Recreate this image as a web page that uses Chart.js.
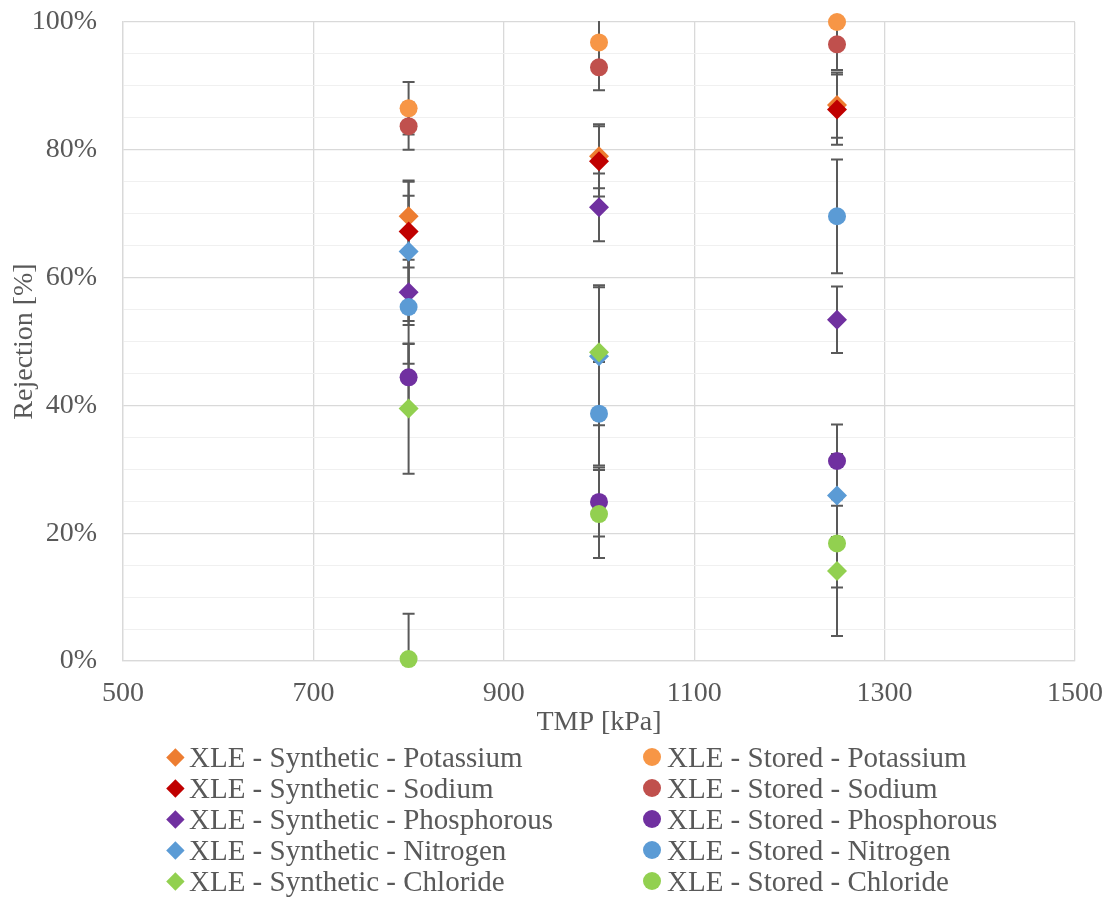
<!DOCTYPE html>
<html>
<head>
<meta charset="utf-8">
<script src="https://cdn.jsdelivr.net/npm/chart.js@4.4.1/dist/chart.umd.min.js"></script>
<style>
  body { margin: 0; background: #fff; }
  #wrap { position: relative; width: 1114px; height: 898px; }
  #legend { position: absolute; left: 0; top: 0; width: 1114px; height: 898px; pointer-events: none;
            font-family: "Liberation Serif", "Times New Roman", serif; font-size: 29px; color: #595959; }
  .lbl { position: absolute; white-space: nowrap; line-height: 32px; height: 32px; }
  .mk { position: absolute; }
</style>
</head>
<body>
<div id="wrap">
  <canvas id="myChart" width="1114" height="898"></canvas>
  <div id="legend"></div>
</div>
<script>
// TMP values (kPa)
const tmp = [800, 1000, 1250];

// rejection [%] and error (+/-)
const synPotassium = [69.6, 79.0, 87.0];
const synPotassiumErr = [5.6, 5.0, 5.1];
const synSodium = [67.2, 78.2, 86.3];
const synSodiumErr = [5.6, 5.5, 5.5];
const synPhosphorous = [57.7, 71.0, 53.4];
const synPhosphorousErr = [5.1, 5.3, 5.2];
const synNitrogen = [64.1, 47.7, 25.9];
const synNitrogenErr = [10.9, 10.8, 6.5];
const synChloride = [39.5, 48.3, 14.1];
const synChlorideErr = [10.2, 10.5, 10.2];

const stoPotassium = [86.5, 96.8, 100.0];
const stoPotassiumErr = [4.1, 4.0, 4.0];
const stoSodium = [83.7, 92.9, 96.5];
const stoSodiumErr = [3.7, 3.6, 4.0];
const stoPhosphorous = [44.4, 24.9, 31.3];
const stoPhosphorousErr = [5.2, 5.4, 5.7];
const stoNitrogen = [55.4, 38.7, 69.6];
const stoNitrogenErr = [8.9, 8.1, 8.9];
const stoChloride = [0.3, 23.0, 18.4];
const stoChlorideErr = [7.1, 6.9, 6.9];

const xTicks = [500, 700, 900, 1100, 1300, 1500];
const yTicks = [0, 20, 40, 60, 80, 100];

const textColor = '#595959';
const fontFam = '"Liberation Serif", "Times New Roman", serif';

// legend order (excel: row by row)
const series = [
    { label: 'XLE - Synthetic - Potassium', data: synPotassium, err: synPotassiumErr, color: '#ED7D31', style: 'rectRot' },
    { label: 'XLE - Stored - Potassium', data: stoPotassium, err: stoPotassiumErr, color: '#F79646', style: 'circle' },
    { label: 'XLE - Synthetic - Sodium', data: synSodium, err: synSodiumErr, color: '#C00000', style: 'rectRot' },
    { label: 'XLE - Stored - Sodium', data: stoSodium, err: stoSodiumErr, color: '#C0504D', style: 'circle' },
    { label: 'XLE - Synthetic - Phosphorous', data: synPhosphorous, err: synPhosphorousErr, color: '#7030A0', style: 'rectRot' },
    { label: 'XLE - Stored - Phosphorous', data: stoPhosphorous, err: stoPhosphorousErr, color: '#7030A0', style: 'circle' },
    { label: 'XLE - Synthetic - Nitrogen', data: synNitrogen, err: synNitrogenErr, color: '#5B9BD5', style: 'rectRot' },
    { label: 'XLE - Stored - Nitrogen', data: stoNitrogen, err: stoNitrogenErr, color: '#5B9BD5', style: 'circle' },
    { label: 'XLE - Synthetic - Chloride', data: synChloride, err: synChlorideErr, color: '#92D050', style: 'rectRot' },
    { label: 'XLE - Stored - Chloride', data: stoChloride, err: stoChlorideErr, color: '#92D050', style: 'circle' }
];

// error bars, drawn under the markers
const errorBars = {
    id: 'errorBars',
    beforeDatasetsDraw(chart) {
        const { ctx, chartArea } = chart;
        const xs = chart.scales.x, ys = chart.scales.y;
        ctx.save();
        ctx.beginPath();
        ctx.rect(chartArea.left, chartArea.top - 1, chartArea.right - chartArea.left, chartArea.bottom - chartArea.top + 2);
        ctx.clip();
        ctx.strokeStyle = '#595959';
        ctx.lineWidth = 2;
        chart.data.datasets.forEach(ds => {
            ds.data.forEach((p, i) => {
                const px = xs.getPixelForValue(p.x);
                const top = ys.getPixelForValue(p.y + ds.err[i]);
                const bot = ys.getPixelForValue(p.y - ds.err[i]);
                ctx.beginPath();
                ctx.moveTo(px, top); ctx.lineTo(px, bot);
                ctx.moveTo(px - 6, top); ctx.lineTo(px + 6, top);
                ctx.moveTo(px - 6, bot); ctx.lineTo(px + 6, bot);
                ctx.stroke();
            });
        });
        ctx.restore();
    }
};

const ctx = document.getElementById('myChart').getContext('2d');
const myChart = new Chart(ctx, {
    type: 'scatter',
    data: {
        datasets: series.map((s, i) => ({
            label: s.label,
            data: s.data.map((v, j) => ({ x: tmp[j], y: v })),
            err: s.err,
            backgroundColor: s.color,
            borderWidth: 0,
            pointStyle: s.style,
            pointRadius: s.style === 'circle' ? 9 : 10,
            order: series.length - i,
            clip: false
        }))
    },
    options: {
        responsive: false,
        animation: false,
        layout: { padding: { top: 22, right: 39, bottom: 159, left: 0 } },
        plugins: {
            legend: { display: false },
            tooltip: { enabled: false }
        },
        scales: {
            x: {
                type: 'linear',
                min: 500,
                max: 1500,
                afterBuildTicks: (s) => { s.ticks = xTicks.map(v => ({ value: v })); },
                afterFit: (s) => { s.height = 78; s.paddingLeft = 0; s.paddingRight = 0; },
                ticks: { color: textColor, font: { family: fontFam, size: 28 }, padding: 16, maxRotation: 0, callback: (v) => String(v) },
                grid: { color: '#d9d9d9', lineWidth: 1.3, drawTicks: false },
                border: { color: '#d9d9d9', width: 1.3 },
                title: { display: true, text: 'TMP [kPa]', color: textColor, font: { family: fontFam, size: 28 }, padding: 0 }
            },
            y: {
                min: 0,
                max: 100,
                ticks: {
                    stepSize: 5,
                    autoSkip: false,
                    color: textColor,
                    font: { family: fontFam, size: 28 },
                    padding: 26,
                    callback: (v) => yTicks.includes(v) ? v + '%' : ''
                },
                afterFit: (s) => { s.width = 123; s.paddingTop = 0; s.paddingBottom = 0; },
                grid: {
                    color: (c) => yTicks.includes(c.tick.value) ? '#d9d9d9' : '#f0f0f0',
                    lineWidth: (c) => yTicks.includes(c.tick.value) ? 1.3 : 1,
                    drawTicks: false
                },
                border: { color: '#d9d9d9', width: 1.3 },
                title: { display: true, text: 'Rejection [%]', color: textColor, font: { family: fontFam, size: 28 }, padding: { top: 8, bottom: 0 } }
            }
        }
    },
    plugins: [errorBars]
});

// legend: two columns, synthetic on the left, stored on the right
const legend = document.getElementById('legend');
const rowY = [757, 788, 819, 850, 881];
const colMarker = [175, 652];
const colText = [189, 667];
series.forEach((s, i) => {
    const col = i % 2, row = Math.floor(i / 2);
    const mk = document.createElement('div');
    mk.className = 'mk';
    if (s.style === 'circle') {
        mk.style.cssText = `left:${colMarker[col] - 9}px;top:${rowY[row] - 9}px;width:18px;height:18px;border-radius:50%;background:${s.color};`;
    } else {
        mk.style.cssText = `left:${colMarker[col] - 6.4}px;top:${rowY[row] - 6.4}px;width:12.8px;height:12.8px;transform:rotate(45deg);background:${s.color};`;
    }
    legend.appendChild(mk);
    const t = document.createElement('div');
    t.className = 'lbl';
    t.style.left = colText[col] + 'px';
    t.style.top = (rowY[row] - 16) + 'px';
    t.textContent = s.label;
    legend.appendChild(t);
});
</script>
</body>
</html>
